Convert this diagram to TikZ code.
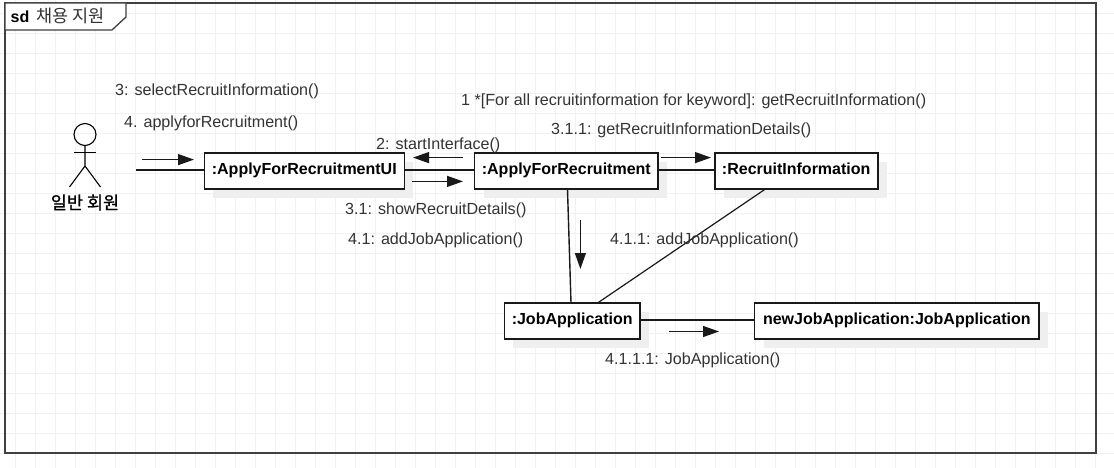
\documentclass[tikz,border=0pt]{standalone}
\usepackage{fontspec}
\setmainfont{Liberation Sans}
\newfontfamily\krfont{Noto Sans CJK KR}
\newfontfamily\krsemi[FakeBold=1.2]{Noto Sans CJK KR}
\usetikzlibrary{shadows,arrows.meta}
\definecolor{gridc}{HTML}{F1F1F1}
\definecolor{framec}{HTML}{404040}
\definecolor{labelc}{HTML}{333333}
\definecolor{shadowc}{HTML}{EFEFEF}
\tikzset{
  objbox/.style={draw=black!90,line width=1.6pt,fill=white,inner sep=0pt,align=center,
    font=\fontsize{16}{18}\selectfont\bfseries,text=black,
    drop shadow={shadow xshift=9pt,shadow yshift=-9pt,fill=shadowc,opacity=1}},
  msg/.style={anchor=west,inner sep=0pt,font=\fontsize{16.1}{18}\selectfont,text=labelc},
  link/.style={draw=black!90,line width=1.4pt},
  thinlink/.style={draw=black!90,line width=1.2pt},
  flow/.style={draw=black!90,line width=1.2pt,-{Triangle[length=16pt,width=11pt]}},
  actorline/.style={draw=black,line width=1.1pt},
}
\begin{document}
\begin{tikzpicture}[x=1pt,y=-1pt]
\useasboundingbox (0,0) rectangle (1114,468);
\fill[white] (0,0) rectangle (1114,468);
% grid
\foreach \gx in {15,35,...,1095} \draw[gridc,line width=0.9pt] (\gx,0) -- (\gx,468);
\foreach \gy in {13,33,...,453} \draw[gridc,line width=0.9pt] (0,\gy) -- (1114,\gy);
% frame
\draw[framec,line width=1.5pt] (5,3) rectangle (1096,453);
\fill[white] (5,3) -- (126,3) -- (126,17) -- (112,30) -- (5,30) -- cycle;
\draw[framec,line width=1.3pt] (5,3) -- (126,3) -- (126,17) -- (112,30) -- (5,30) -- cycle;
\node[anchor=west,inner sep=0pt,font=\fontsize{16}{18}\selectfont,text=black] (title) at (10.5,15.5)
  {\textbf{sd}\hspace{7pt}{\fontsize{17.5}{18}\selectfont\krfont\color{labelc}채용 지원}};
% actor
\draw[actorline] (85,134.5) circle (11);
\coordinate (neck) at (85,145.5);
\coordinate (hip) at (85,166);
\draw[actorline] (neck) -- (hip) -- (69.5,187);
\draw[actorline] (hip) -- (100.5,187);
\draw[actorline] (74,152.5) -- (96,152.5);
\node[inner sep=0pt,font=\fontsize{17.5}{18}\selectfont\krsemi,text=black] (actor) at (85,202.5) {일반 회원};
\coordinate (actorend) at (136,170);
% objects
\node[objbox,minimum width=200pt,minimum height=36.5pt] (ui) at (304.3,171) {\raisebox{5pt}{:ApplyForRecruitmentUI}};
\node[objbox,minimum width=183.5pt,minimum height=36.5pt] (afr) at (566.3,171) {\raisebox{5pt}{:ApplyForRecruitment}};
\node[objbox,minimum width=163pt,minimum height=36.5pt] (ri) at (796.2,171) {\raisebox{5pt}{:RecruitInformation}};
\node[objbox,minimum width=135.5pt,minimum height=36.5pt] (ja) at (572.2,321) {\raisebox{5pt}{:JobApplication}};
\node[objbox,minimum width=284.5pt,minimum height=36.5pt] (nja) at (896.8,321) {\raisebox{5pt}{newJobApplication:JobApplication}};
% links
\draw[link] (actorend) -- (ui.west |- actorend);
\coordinate (l1) at (404,170);
\draw[link] (ui.east |- l1) -- (afr.west |- l1);
\draw[link] (afr.east |- l1) -- (ri.west |- l1);
\coordinate (l2) at (640,320);
\draw[link] (ja.east |- l2) -- (nja.west |- l2);
\coordinate (afrb) at (567.5,189.3);
\coordinate (jat) at (571,302.7);
\draw[link] (afrb) -- (jat);
\coordinate (rib) at (765,189.3);
\coordinate (jat2) at (598,302.7);
\draw[thinlink] (rib) -- (jat2);
% message arrows
\coordinate (a1s) at (142,159.6); \coordinate (a1e) at (194,159.6);
\draw[flow] (a1s) -- (a1e);
\coordinate (a2s) at (463,157.6); \coordinate (a2e) at (413,157.6);
\draw[flow] (a2s) -- (a2e);
\coordinate (a3s) at (412,181.4); \coordinate (a3e) at (463,181.4);
\draw[flow] (a3s) -- (a3e);
\coordinate (a4s) at (661,157.6); \coordinate (a4e) at (711,157.6);
\draw[flow] (a4s) -- (a4e);
\coordinate (a5s) at (580.4,220); \coordinate (a5e) at (580.4,269);
\draw[flow] (a5s) -- (a5e);
\coordinate (a6s) at (669,331.5); \coordinate (a6e) at (719,331.5);
\draw[flow] (a6s) -- (a6e);
% labels
\node[msg] (m1) at (115,91) {3: selectRecruitInformation()};
\node[msg] (m2) at (124,123) {4. applyforRecruitment()};
\node[msg] (m3) at (461,101) {1 *[For all recruitinformation for keyword]: getRecruitInformation()};
\node[msg] (m4) at (551,130) {3.1.1: getRecruitInformationDetails()};
\node[msg] (m5) at (376,145) {2: startInterface()};
\node[msg] (m6) at (345,210) {3.1: showRecruitDetails()};
\node[msg] (m7) at (348,240) {4.1: addJobApplication()};
\node[msg] (m8) at (610,240) {4.1.1: addJobApplication()};
\node[msg] (m9) at (605,360) {4.1.1.1: JobApplication()};
\end{tikzpicture}
\end{document}
